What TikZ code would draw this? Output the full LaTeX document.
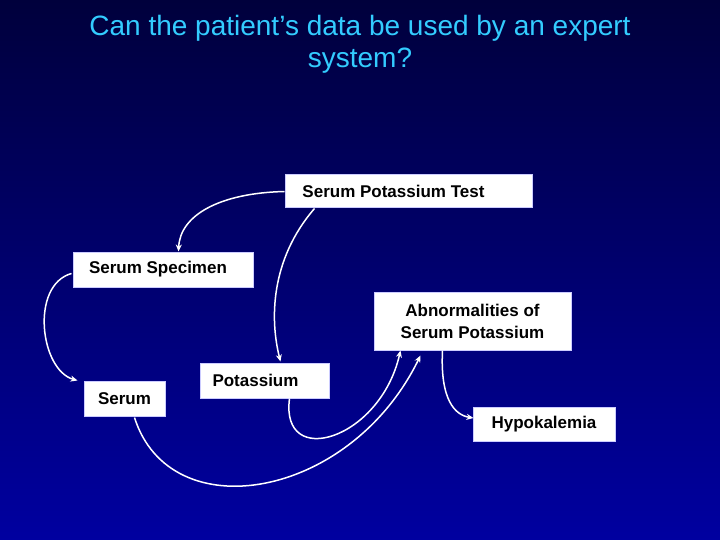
\documentclass[tikz,border=0pt]{standalone}
\usepackage{fontspec}
\setmainfont{Liberation Sans}
\usetikzlibrary{arrows.meta,calc}
\definecolor{bgtop}{RGB}{0,0,60}
\definecolor{bgbot}{RGB}{0,0,160}
\definecolor{titlec}{RGB}{51,204,255}
\begin{document}
\begin{tikzpicture}[x=1pt,y=-1pt,
  box/.style={draw=white!80!blue,fill=white,line width=1pt,inner sep=0pt,text=black,font=\bfseries\fontsize{17}{22}\selectfont,align=center},
  conn/.style={draw=white,line width=1.5pt,-{Stealth[length=7pt,width=6pt]}}]
\shade[top color=bgtop,bottom color=bgbot] (0,0) rectangle (720,540);
\useasboundingbox (0,0) rectangle (720,540);
\node[text=titlec,font=\fontsize{28}{32}\selectfont,align=center] (title) at (360,44) {Can the patient’s data be used by an expert\\system?};
\node[box,minimum width=247,minimum height=33] (spt) at (408.5,191.5) {\hspace*{-30pt}Serum Potassium Test};
\node[box,minimum width=180,minimum height=35] (ss) at (163,269.5) {\hspace*{-10pt}Serum Specimen};
\node[box,minimum width=197,minimum height=58] (abn) at (472.5,321) {Abnormalities of\\Serum Potassium};
\node[box,minimum width=81,minimum height=35] (se) at (124.5,398.5) {Serum};
\node[box,minimum width=129,minimum height=35] (po) at (264.5,380.5) {\hspace*{-18pt}Potassium};
\node[box,minimum width=142,minimum height=34] (hy) at (544,424) {Hypokalemia};
\draw[conn] (spt.west) .. controls (220,193) and (180,215) .. ($(ss.north west)+(106,0)$);
\draw[conn] ($(spt.south west)+(30,0)$) .. controls (270,260) and (270,320) .. ($(po.north west)+(81,-1)$);
\draw[conn] ($(ss.south west)+(-1,-14)$) .. controls (30,285) and (40,370) .. ($(se.north west)+(-6,0)$);
\draw[conn] ($(po.south west)+(90,0)$) .. controls (280,470) and (380,440) .. ($(abn.south west)+(27,0)$);
\draw[conn] ($(se.south west)+(51,1)$) .. controls (170,530) and (350,500) .. ($(abn.south west)+(47,5)$);
\draw[conn] ($(abn.south west)+(69,0)$) .. controls (440,400) and (455,415) .. ($(hy.west)+(1,-6)$);
\end{tikzpicture}
\end{document}
